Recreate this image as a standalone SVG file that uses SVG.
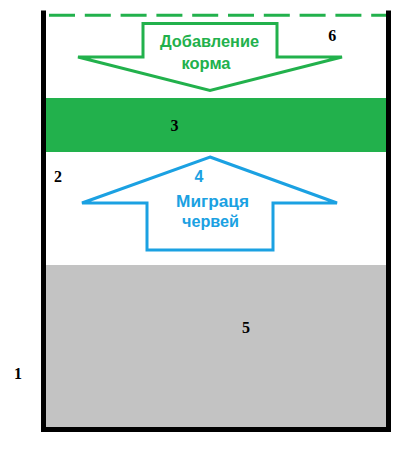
<svg xmlns="http://www.w3.org/2000/svg" width="401" height="451" viewBox="0 0 401 451">
<style>
.num{font-family:"Liberation Serif",serif;font-weight:bold;font-size:16px;fill:#000;text-anchor:middle}
.lbl{font-family:"Liberation Sans",Arial,sans-serif;font-weight:bold;font-size:16px;text-anchor:middle}
.g{fill:#22b14c}
.b{fill:#1ba1e2}
</style>
<rect width="401" height="451" fill="#fff"/>
<g id="substrate"><rect x="46" y="265" width="340" height="162" fill="#c3c3c3"/></g>
<g id="feed-layer"><rect x="46" y="98" width="340" height="54" fill="#22b14c"/></g>
<g id="container"><path d="M43.5,10.5 V429.5 H388.5 V10.5" fill="none" stroke="#000" stroke-width="5"/></g>
<g id="top-level"><line x1="49" y1="15.3" x2="386" y2="15.3" stroke="#22b14c" stroke-width="3" stroke-dasharray="26 9.8"/></g>
<g id="connectors">
<polygon points="143,23.5 277,23.5 277,57 342,57 210,90.5 78,57 143,57" fill="none" stroke="#22b14c" stroke-width="3"/>
<polygon points="210,157 337,203 273,203 273,250 147,250 147,203 82,203" fill="none" stroke="#1ba1e2" stroke-width="3"/>
</g>
<g id="add-feed">
<text class="lbl g" x="209.5" y="46.7" textLength="99" lengthAdjust="spacingAndGlyphs">Добавление</text>
<text class="lbl g" x="206" y="69.3" textLength="49" lengthAdjust="spacingAndGlyphs">корма</text>
</g>
<g id="migration">
<text class="lbl b" x="199" y="181.7">4</text>
<text class="lbl b" x="212.5" y="207.3" textLength="73" lengthAdjust="spacingAndGlyphs">Миграця</text>
<text class="lbl b" x="210.5" y="226.7" textLength="57" lengthAdjust="spacingAndGlyphs">червей</text>
</g>
<g id="labels">
<text class="num" x="18" y="379.3">1</text>
<text class="num" x="58" y="181.7">2</text>
<text class="num" x="174.5" y="130.5">3</text>
<text class="num" x="246" y="332.7">5</text>
<text class="num" x="332.3" y="40.7">6</text>
</g>
</svg>
